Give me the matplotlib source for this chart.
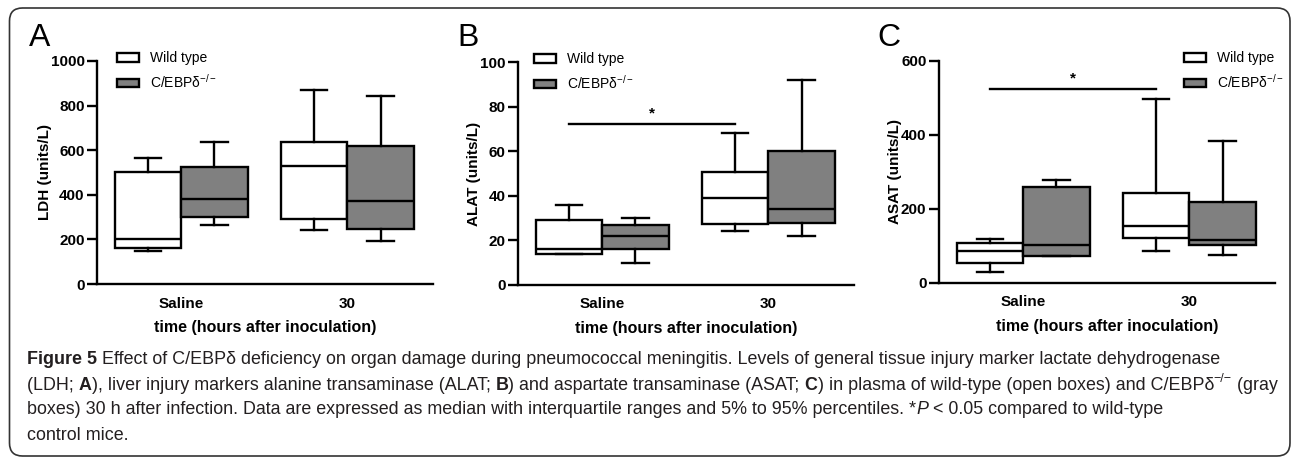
import matplotlib
matplotlib.use("Agg")
import matplotlib.pyplot as plt
from matplotlib.patches import Patch, FancyBboxPatch

plt.rcParams['font.family'] = ['Liberation Sans', 'DejaVu Sans']
plt.rcParams['mathtext.fontset'] = 'custom'
plt.rcParams['mathtext.rm'] = 'Liberation Sans'

# data: (whislo, q1, med, q3, whishi)
groups = ['Saline', '30']
series = ['Wild type', r'C/EBP$\mathregular{\delta^{-/-}}$']

ldh_wt = [(147, 160, 204, 503, 567), (243, 292, 527, 635, 872)]
ldh_ko = [(266, 302, 380, 524, 638), (192, 245, 371, 620, 841)]

alat_wt = [(14, 14, 16, 29, 36), (24, 27.5, 39, 50.5, 68)]
alat_ko = [(10, 16, 22, 27, 30), (22, 28, 34, 60, 92)]

asat_wt = [(30, 53, 87, 109, 119), (86, 121, 154, 244, 496)]
asat_ko = [(72, 74, 104, 259, 278), (77, 102, 116, 218, 383)]

panels = [
    dict(letter='A', ylabel='LDH (units/L)', wt=ldh_wt, ko=ldh_ko,
         ylim=1000, step=200, sig=None, leg_x=0.06),
    dict(letter='B', ylabel='ALAT (units/L)', wt=alat_wt, ko=alat_ko,
         ylim=100, step=20, sig=72.2, leg_x=0.048),
    dict(letter='C', ylabel='ASAT (units/L)', wt=asat_wt, ko=asat_ko,
         ylim=600, step=200, sig=524, leg_x=0.728),
]

W, H = 1292, 458
fig = plt.figure(figsize=(W / 100, H / 100), dpi=100)

# rounded frame around the whole figure
frame = FancyBboxPatch((9.5 / 100, 2 / 100), (1290 - 9.5) / 100, 448 / 100,
                       boxstyle='round,pad=0,rounding_size=0.13',
                       transform=fig.dpi_scale_trans, fill=False,
                       ec='#333333', lw=1.2)
fig.add_artist(frame)

ax_left = [97, 518, 939]
ax_top = [61, 62, 61]
ax_bot = [284, 285, 283]
letter_x = [29, 457, 877]

grey = '#808080'
lw = 1.7


def stats(vals):
    return [dict(whislo=v[0], q1=v[1], med=v[2], q3=v[3], whishi=v[4])
            for v in vals]


for i, p in enumerate(panels):
    ax = fig.add_axes([ax_left[i] / W, (H - ax_bot[i]) / H,
                       336 / W, (ax_bot[i] - ax_top[i]) / H])
    for data, off, fc in [(p['wt'], -0.2, 'white'), (p['ko'], 0.2, grey)]:
        ax.bxp(stats(data), positions=[0 + off, 1 + off], widths=0.4,
               patch_artist=True, showfliers=False, capwidths=0.16,
               boxprops=dict(facecolor=fc, edgecolor='black', linewidth=lw),
               medianprops=dict(color='black', linewidth=lw),
               whiskerprops=dict(color='black', linewidth=lw),
               capprops=dict(color='black', linewidth=lw))
    ax.set_xlim(-0.506, 1.515)
    ax.set_ylim(0, p['ylim'])
    ax.set_yticks(range(0, p['ylim'] + 1, p['step']))
    ax.set_xticks([0, 1])
    ax.set_xticklabels(groups)
    for s in ['top', 'right']:
        ax.spines[s].set_visible(False)
    for s in ['left', 'bottom']:
        ax.spines[s].set_linewidth(lw)
    ax.tick_params(axis='y', length=7, width=lw, labelsize=11, pad=2)
    ax.tick_params(axis='x', length=0, labelsize=11, pad=9)
    for t in ax.get_xticklabels() + ax.get_yticklabels():
        t.set_fontweight('bold')
    ax.set_ylabel(p['ylabel'], fontsize=11, fontweight='bold', labelpad=-1)
    ax.set_xlabel('time (hours after inoculation)', fontsize=11.5,
                  fontweight='bold', labelpad=7)

    if p['sig'] is not None:
        ax.plot([-0.2, 0.8], [p['sig'], p['sig']], color='black', lw=lw)
        ax.text(0.3, p['sig'] + p['ylim'] * 0.015, '*', ha='center',
                va='bottom', fontsize=11, fontweight='bold')

    handles = [Patch(facecolor='white', edgecolor='black', lw=lw, label=series[0]),
               Patch(facecolor=grey, edgecolor='black', lw=lw, label=series[1])]
    ax.legend(handles=handles, loc='upper left',
              bbox_to_anchor=(p['leg_x'], 1.043), frameon=False,
              fontsize=10, handlelength=1.6, handleheight=0.55,
              handletextpad=0.8, labelspacing=0.55, borderaxespad=0,
              borderpad=0)

    fig.text(letter_x[i] / W, 1 - 38 / H, p['letter'], fontsize=23,
             va='center', ha='left')

# caption, drawn piece by piece
cap_font = ['Liberation Sans', 'DejaVu Sans']
cap_size = 12.9
cap_color = '#231f20'
cap_lines = [
    [('Figure 5', 'bold', 'normal', 0),
     (' Effect of C/EBP\u03b4 deficiency on organ damage during pneumococcal '
      'meningitis. Levels of general tissue injury marker lactate dehydrogenase',
      'normal', 'normal', 0)],
    [('(LDH; ', 'normal', 'normal', 0), ('A', 'bold', 'normal', 0),
     ('), liver injury markers alanine transaminase (ALAT; ', 'normal', 'normal', 0),
     ('B', 'bold', 'normal', 0),
     (') and aspartate transaminase (ASAT; ', 'normal', 'normal', 0),
     ('C', 'bold', 'normal', 0),
     (') in plasma of wild-type (open boxes) and C/EBP\u03b4', 'normal', 'normal', 0),
     ('\u2212/\u2212', 'normal', 'normal', 1),
     (' (gray', 'normal', 'normal', 0)],
    [('boxes) 30 h after infection. Data are expressed as median with '
      'interquartile ranges and 5% to 95% percentiles. *', 'normal', 'normal', 0),
     ('P', 'normal', 'italic', 0),
     (' < 0.05 compared to wild-type', 'normal', 'normal', 0)],
    [('control mice.', 'normal', 'normal', 0)],
]
line_y = [360, 385, 410, 435]

renderer = fig.canvas.get_renderer()
for segs, y in zip(cap_lines, line_y):
    x = 27
    for txt, wt, st, sup in segs:
        size = cap_size * (0.7 if sup else 1)
        dy = 6 if sup else 0
        t = fig.text(x / W, 1 - (y - dy) / H, txt, family=cap_font,
                     fontsize=size, fontweight=wt, fontstyle=st,
                     color=cap_color, va='center', ha='left')
        x += t.get_window_extent(renderer).width

fig.savefig('out.png', dpi=100)
